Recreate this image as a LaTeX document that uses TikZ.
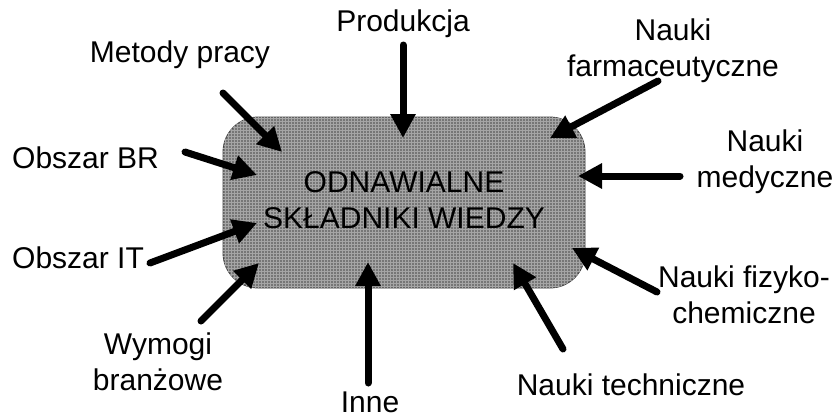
\documentclass[tikz,border=0pt]{standalone}
\usepackage{fontspec}
\setmainfont{Liberation Sans}
\usetikzlibrary{arrows.meta,patterns}
\definecolor{boxfill}{RGB}{118,118,118}
\definecolor{boxgrid}{RGB}{165,165,165}
\begin{document}
\begin{tikzpicture}[x=1pt,y=-1pt,
  lbl/.style={anchor=base,align=center,inner sep=0pt,font=\fontsize{30}{35.5}\selectfont},
  feed/.style={line width=7pt,line cap=round,-{Triangle[length=24pt,width=24pt]}},
  core/.style={draw=black!75,line width=0.8pt,rounded corners=35pt,fill=boxfill,
    postaction={pattern=grid,pattern color=boxgrid},inner sep=0pt}
]
\useasboundingbox (0,0) rectangle (838,418);

% central box
\node[core,minimum width=362pt,minimum height=171pt] (core) at (404,202.5) {};
% multi-line labels are anchored at the baseline of their last line
\node[lbl] (title) at (404,228) {ODNAWIALNE\\SKŁADNIKI WIEDZY};

% surrounding labels
\node[lbl] (prod) at (403,31) {Produkcja};
\node[lbl] (metody) at (180,62) {Metody pracy};
\node[lbl] (farm) at (673,76) {Nauki\\farmaceutyczne};
\node[lbl] (med) at (765,187) {Nauki\\medyczne};
\node[lbl,anchor=base west] (br) at (12,168) {Obszar BR};
\node[lbl,anchor=base west] (it) at (12,268) {Obszar IT};
\node[lbl] (fiz) at (744,323) {Nauki fizyko-\\chemiczne};
\node[lbl] (tech) at (631,395) {Nauki techniczne};
\node[lbl] (wym) at (158,390) {Wymogi\\branżowe};
\node[lbl] (inne) at (370,412) {Inne};

% arrow ends
\coordinate (prodS) at (403,45);   \coordinate (prodE) at (403,138);
\coordinate (metS) at (223,93);    \coordinate (metE) at (282,152);
\coordinate (farmS) at (658,81);   \coordinate (farmE) at (550,138);
\coordinate (brS) at (185,152);    \coordinate (brE) at (257,175);
\coordinate (medS) at (680,176);   \coordinate (medE) at (578,176);
\coordinate (itS) at (150,263);    \coordinate (itE) at (257,223);
\coordinate (fizS) at (657,292);   \coordinate (fizE) at (572,248);
\coordinate (wymS) at (201,321);   \coordinate (wymE) at (259,263);
\coordinate (innS) at (368,383);   \coordinate (innE) at (368,262);
\coordinate (techS) at (563,349);  \coordinate (techE) at (513,263);

\foreach \s/\e in {prodS/prodE,metS/metE,farmS/farmE,brS/brE,medS/medE,
                   itS/itE,fizS/fizE,wymS/wymE,innS/innE,techS/techE}
  \draw[feed] (\s) -- (\e);
\end{tikzpicture}
\end{document}
